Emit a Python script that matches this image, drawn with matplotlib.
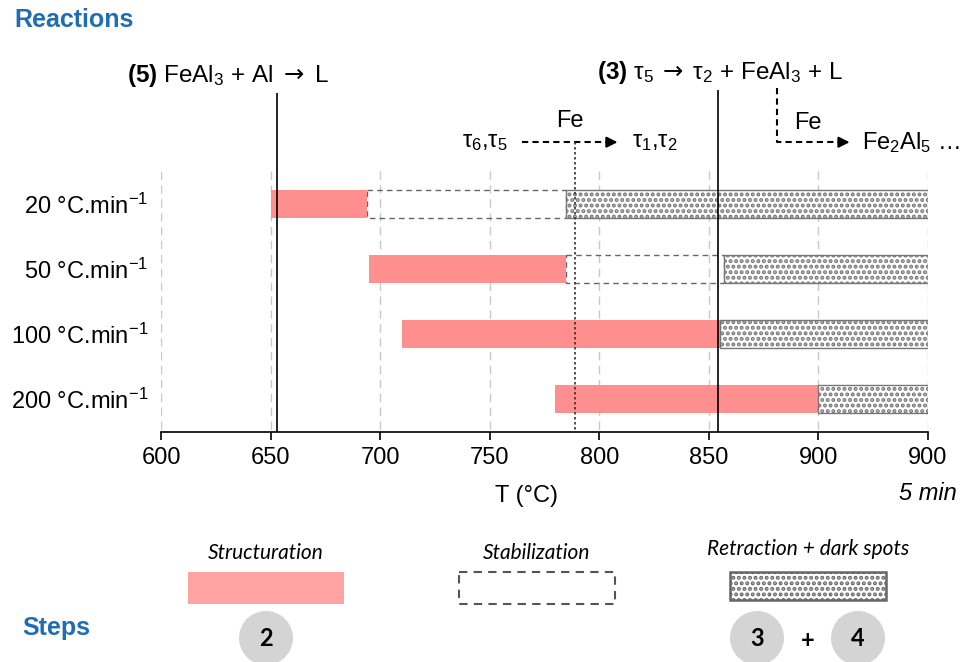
import numpy as np
import matplotlib
matplotlib.use("Agg")
import matplotlib.pyplot as plt
from matplotlib.patches import Rectangle, Circle

plt.rcParams['font.family'] = ['Liberation Sans', 'DejaVu Sans']
plt.rcParams['mathtext.fontset'] = 'custom'
plt.rcParams['mathtext.rm'] = 'Liberation Sans'
plt.rcParams['mathtext.it'] = 'Liberation Sans:italic'
plt.rcParams['mathtext.bf'] = 'Liberation Sans:bold'
plt.rcParams['mathtext.sf'] = 'DejaVu Sans'
plt.rcParams['hatch.linewidth'] = 2.0

# -- data --
rates = ['20 °C.min$^{-1}$', '50 °C.min$^{-1}$', '100 °C.min$^{-1}$', '200 °C.min$^{-1}$']
struct_start = [650, 695, 710, 780]
struct_end = [694, 785, 855, 900]
stab_end = [785, 857, 855, 900]
hold_end = 950  # 900 °C + 5 min hold
tick_pos = [600, 650, 700, 750, 800, 850, 900, 950]
tick_lab = ['600', '650', '700', '750', '800', '850', '900', '900']
react5_T = 653
react3_T = 854
fe_T = 789

pink = '#ff8f8f'
blue = '#1f6db3'

fig = plt.figure(figsize=(9.71, 6.62), dpi=100)
ax = fig.add_axes([161 / 971, 1 - 432 / 662, 767 / 971, 372 / 662])
y = np.arange(len(rates))

# grid
ax.vlines(tick_pos, -0.5, 3.51, colors='#c8c8c8', linestyles=(0, (6, 4)), lw=1, zorder=0)

s0 = np.array(struct_start)
s1 = np.array(struct_end)
s2 = np.array(stab_end)
h = 0.42
ax.barh(y, s1 - s0, left=s0, height=h, color=pink, zorder=2)
ax.barh(y, s2 - s1, left=s1, height=h, fill=False, edgecolor='#666666',
        linestyle=(0, (4, 3)), lw=1, zorder=1)
ax.barh(y, hold_end - s2, left=s2, height=h, color='white', edgecolor='#767676',
        hatch='...', lw=1, zorder=2)

# reaction lines
ax.vlines([react5_T], -1.71, 3.51, colors='black', lw=1.2, zorder=3)
ax.vlines([react3_T], -1.75, 3.51, colors='black', lw=1.2, zorder=3)
ax.vlines([fe_T], -0.95, 3.51, colors='#333333', linestyles=(0, (1.5, 1.5)), lw=1.2, zorder=3)

fs = 17
ax.text(584.5, -1.98, r'$\mathbf{(5)}$ FeAl$_3$ + Al $\mathsf{\rightarrow}$ L', fontsize=17.5,
        ha='left', va='center')
ax.text(799, -2.03, r'$\mathbf{(3)}$ τ$_5\;\mathsf{\rightarrow}\;$τ$_2$ + FeAl$_3$ + L',
        fontsize=17.5, ha='left', va='center')

# Fe arrows
ay = -0.95
ax.plot([764.8, 805], [ay, ay], color='black', ls=(0, (3, 2)), lw=1.5)
ax.annotate('', xy=(809.6, ay), xytext=(803, ay),
            arrowprops=dict(arrowstyle='-|>', color='black', lw=1.5, mutation_scale=16))
ax.text(758.4, ay, r'τ$_6$,τ$_5$', fontsize=fs, ha='right', va='center')
ax.text(815.1, ay, r'τ$_1$,τ$_2$', fontsize=fs, ha='left', va='center')
ax.text(786.8, -1.27, 'Fe', fontsize=fs, ha='center', va='center')

ax.plot([881.3, 881.3, 911], [-1.78, ay, ay], color='black', ls=(0, (3, 2)), lw=1.5)
ax.annotate('', xy=(915.5, ay), xytext=(909, ay),
            arrowprops=dict(arrowstyle='-|>', color='black', lw=1.5, mutation_scale=16))
ax.text(895, -1.25, 'Fe', fontsize=fs, ha='center', va='center')
ax.text(920.1, ay, r'Fe$_2$Al$_5$ …', fontsize=fs, ha='left', va='center')

# axes styling
ax.set_xlim(600, 950)
ax.set_ylim(3.51, -2.215)
for s in ['left', 'top', 'right']:
    ax.spines[s].set_visible(False)
ax.spines['bottom'].set_linewidth(1.2)
ax.set_xticks(tick_pos)
ax.set_xticklabels(tick_lab, fontsize=fs)
ax.tick_params(axis='x', length=6, width=1.2, pad=5)
ax.set_yticks(y)
ax.set_yticklabels(rates, fontsize=fs)
ax.tick_params(axis='y', length=0, pad=9)
ax.set_xlabel('T (°C)', fontsize=fs)
ax.xaxis.set_label_coords(0.477, -0.143)
ax.text(950, -0.166, '5 min', fontsize=fs, style='italic', ha='center', va='center',
        transform=ax.get_xaxis_transform())

fig.text(14 / 971, 1 - 20 / 662, 'Reactions', color=blue, fontsize=18, fontweight='bold',
         ha='left', va='center')
fig.text(22 / 971, 1 - 628 / 662, 'Steps', color=blue, fontsize=18, fontweight='bold',
         ha='left', va='center')

# step legend (pixel layout)
lg = fig.add_axes([0, 0, 1, 1], zorder=-1)
lg.set_xlim(0, 971)
lg.set_ylim(662, 0)
lg.axis('off')
lf = dict(fontsize=15, style='italic', family=['Lato', 'DejaVu Sans'], ha='center', va='center')
lg.text(266, 553, 'Structuration', **lf)
lg.text(537, 553, 'Stabilization', **lf)
lg.text(808, 549, 'Retraction + dark spots', **lf)
lg.add_patch(Rectangle((188, 572), 156, 32, color='#ffa3a3', lw=0))
lg.add_patch(Rectangle((459, 572), 156, 32, fill=False, edgecolor='#555555',
                       linestyle=(0, (4, 3)), lw=1.5))
lg.add_patch(Rectangle((730, 572), 156, 28, facecolor='white', edgecolor='#666666',
                       hatch='...', lw=1.8))
cf = dict(fontsize=17, fontweight='bold', family=['Lato', 'DejaVu Sans'], ha='center', va='center')
for cx, lab in [(266, '2'), (757, '3'), (858, '4')]:
    lg.add_patch(Circle((cx, 638), 27, color='#d4d4d4', lw=0))
    lg.text(cx, 639, lab, **cf)
lg.text(808, 640, '+', **cf)

fig.savefig('out.png', dpi=100)
